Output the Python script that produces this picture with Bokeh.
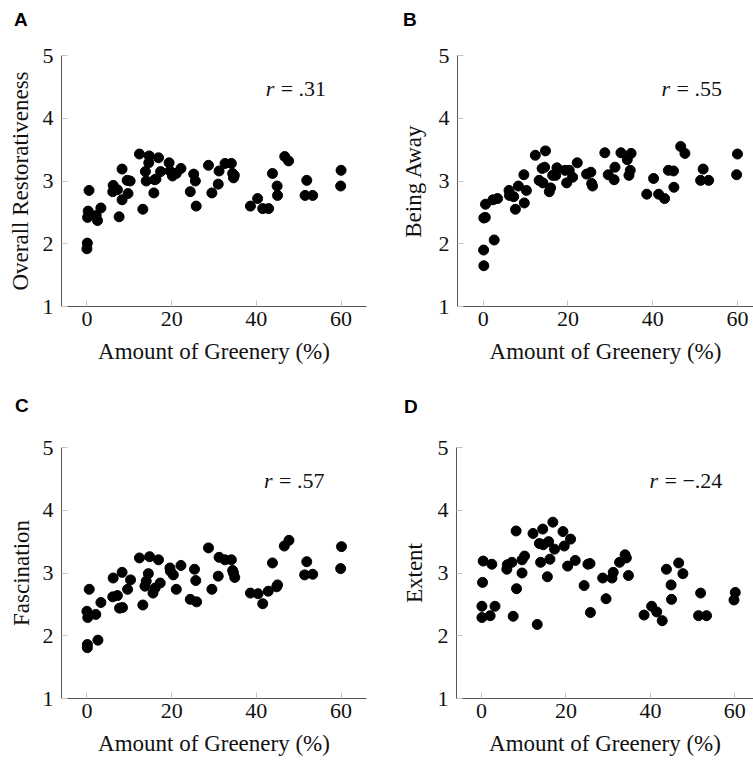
from bokeh.plotting import figure
from bokeh.layouts import column, row
from bokeh.models import Label, Range1d, FixedTicker, Div
from bokeh.embed import file_html
from bokeh.resources import INLINE

# ---------------- data ----------------
x_ticks = [0, 20, 40, 60]
y_ticks = [1, 2, 3, 4, 5]
x_label = "Amount of Greenery (%)"
panel_letters = ["A", "B", "C", "D"]
y_labels = ["Overall Restorativeness", "Being Away", "Fascination", "Extent"]
r_values = ["= .31", "= .55", "= .57", "= \u2212.24"]

x_overall = [0.0, 0.1, 0.15, 0.3, 0.5, 2.2, 2.5, 3.3, 6.1, 6.2, 7.2, 7.6, 8.3, 8.3, 9.5,
             10.2, 9.7, 12.4, 13.2, 13.8, 14.0, 14.6, 14.7, 15.8, 16.0, 16.3, 16.9, 17.4,
             19.4, 19.6, 20.2, 21.1, 22.2, 24.4, 25.2, 25.6, 25.8, 28.7, 29.5, 31.0, 31.2,
             32.6, 34.1, 34.4, 34.8, 34.6, 38.6, 40.3, 41.5, 42.9, 43.8, 44.9, 45.0, 46.7,
             47.6, 51.9, 51.5, 53.3, 60.0, 59.9]
y_overall = [1.92, 2.01, 2.42, 2.52, 2.85, 2.45, 2.37, 2.57, 2.83, 2.93, 2.86, 2.43, 2.70,
             3.19, 3.01, 3.00, 2.80, 3.43, 2.55, 3.15, 3.00, 3.29, 3.40, 2.81, 3.02, 3.03,
             3.37, 3.15, 3.29, 3.16, 3.08, 3.12, 3.20, 2.83, 3.11, 3.00, 2.60, 3.25, 2.81,
             2.95, 3.16, 3.28, 3.28, 3.12, 3.09, 3.05, 2.60, 2.72, 2.56, 2.56, 3.12, 2.92,
             2.77, 3.39, 3.32, 3.01, 2.77, 2.77, 3.17, 2.92]

x_away = [0.15, 0.1, 0.15, 0.5, 0.55, 2.3, 2.6, 3.4, 6.1, 6.2, 7.2, 7.6, 8.3, 9.6, 9.7,
          10.2, 12.3, 13.2, 13.9, 14.1, 14.5, 14.7, 15.6, 15.9, 16.4, 17.1, 17.4, 19.3,
          19.7, 20.3, 21.1, 22.2, 24.4, 25.4, 25.6, 25.8, 28.7, 29.5, 30.9, 31.1, 32.5,
          34.0, 34.4, 34.7, 34.9, 38.6, 40.2, 41.4, 42.8, 43.7, 44.9, 45.0, 46.6, 47.6,
          51.9, 51.3, 53.2, 60.0, 59.8]
y_away = [1.65, 1.90, 2.41, 2.42, 2.63, 2.70, 2.06, 2.72, 2.85, 2.77, 2.75, 2.55, 2.92,
          3.10, 2.65, 2.85, 3.41, 3.01, 3.20, 2.97, 3.22, 3.48, 2.83, 2.89, 3.09, 3.09,
          3.21, 3.17, 2.97, 3.17, 3.06, 3.29, 3.11, 3.14, 2.96, 2.92, 3.45, 3.10, 3.02,
          3.22, 3.45, 3.34, 3.09, 3.17, 3.44, 2.79, 3.04, 2.79, 2.72, 3.17, 3.16, 2.90,
          3.55, 3.44, 3.19, 3.01, 3.01, 3.43, 3.10]

x_fascination = [0.1, 0.1, 0.0, 0.2, 0.55, 2.1, 2.6, 3.3, 6.2, 6.1, 7.2, 7.7, 8.4, 8.3, 9.6,
                 10.3, 12.4, 13.2, 13.7, 14.0, 14.5, 14.8, 15.6, 16.1, 16.9, 17.3, 19.6,
                 19.7, 20.4, 21.1, 22.2, 24.4, 25.4, 25.7, 25.9, 28.7, 29.5, 31.0, 31.2,
                 32.6, 34.1, 34.4, 34.6, 34.9, 38.6, 40.4, 41.5, 42.8, 43.8, 44.8, 45.0,
                 46.6, 47.7, 51.9, 51.4, 53.3, 60.1, 59.9]
y_fascination = [1.81, 1.86, 2.39, 2.29, 2.74, 2.34, 1.93, 2.53, 2.92, 2.62, 2.64, 2.44,
                 2.45, 3.01, 2.74, 2.89, 3.24, 2.49, 2.79, 2.87, 2.99, 3.26, 2.68, 2.76,
                 3.21, 2.84, 3.08, 3.03, 2.97, 2.74, 3.12, 2.58, 3.06, 2.88, 2.54, 3.40,
                 2.74, 2.95, 3.25, 3.21, 3.21, 3.04, 3.00, 2.93, 2.68, 2.67, 2.51, 2.71,
                 3.16, 2.78, 2.81, 3.43, 3.52, 3.18, 2.97, 2.98, 3.42, 3.07]

x_extent = [0.1, 0.1, 0.25, 0.4, 2.05, 2.45, 3.2, 6.0, 6.1, 7.2, 7.5, 8.3, 8.2, 9.6, 9.6,
            10.2, 12.2, 13.2, 13.7, 14.0, 14.5, 14.6, 15.6, 15.9, 16.2, 16.9, 17.3, 19.3,
            19.6, 20.4, 21.1, 22.2, 24.3, 25.2, 25.7, 25.8, 28.7, 29.5, 30.9, 31.2, 32.7,
            34.0, 34.3, 34.8, 38.5, 40.3, 41.5, 42.8, 43.8, 44.9, 45.0, 46.7, 47.7, 51.9,
            51.4, 53.3, 60.1, 59.8]
y_extent = [2.29, 2.47, 2.85, 3.19, 2.32, 3.14, 2.47, 3.06, 3.13, 3.17, 2.31, 2.75, 3.67,
            3.21, 3.00, 3.27, 3.63, 2.18, 3.47, 3.17, 3.70, 3.45, 2.94, 3.50, 3.22, 3.81,
            3.38, 3.66, 3.43, 3.11, 3.54, 3.20, 2.80, 3.14, 3.15, 2.37, 2.92, 2.59, 2.92,
            3.01, 3.17, 3.29, 3.24, 2.96, 2.33, 2.47, 2.38, 2.24, 3.06, 2.81, 2.58, 3.16,
            2.99, 2.68, 2.32, 2.32, 2.69, 2.57]

# ---------------- styling helpers ----------------
SERIF = "Liberation Serif"
TICK_FS = "22px"
LABEL_FS = "23px"
STRIP_H = 34


def make_panel(ylabel, xs, ys, rtext, width, height, border_left, border_right,
               border_top, border_bottom, x_start, x_end, r_x, ylabel_standoff):
    p = figure(width=width, height=height, output_backend="svg", toolbar_location=None,
               x_range=Range1d(x_start, x_end), y_range=Range1d(1, 5),
               min_border_left=border_left, min_border_right=border_right,
               min_border_top=border_top, min_border_bottom=border_bottom)
    p.outline_line_color = None
    p.grid.visible = False
    p.background_fill_color = "white"
    p.border_fill_color = "white"

    p.xaxis.ticker = FixedTicker(ticks=x_ticks)
    p.yaxis.ticker = FixedTicker(ticks=y_ticks)
    p.xaxis.axis_label = x_label
    p.yaxis.axis_label = ylabel
    for ax in (p.xaxis, p.yaxis):
        ax.axis_line_color = "#555555"
        ax.axis_line_width = 1
        ax.major_tick_in = 6
        ax.major_tick_out = 0
        ax.major_tick_line_color = "#c4c4c4"
        ax.minor_tick_line_color = None
        ax.major_label_text_font = SERIF
        ax.major_label_text_font_size = TICK_FS
        ax.major_label_text_color = "#111111"
        ax.axis_label_text_font = SERIF
        ax.axis_label_text_font_size = LABEL_FS
        ax.axis_label_text_font_style = "normal"
        ax.axis_label_text_color = "#111111"
    p.xaxis.major_label_standoff = 5
    p.xaxis.axis_label_standoff = 10
    p.yaxis.major_label_standoff = 8
    p.yaxis.axis_label_standoff = ylabel_standoff

    p.scatter(xs, ys, size=10, color="black")

    # correlation annotation
    p.add_layout(Label(x=r_x, y=4.475, text="r", text_font=SERIF, text_font_style="italic",
                       text_font_size="22px", text_baseline="middle", text_color="#111111"))
    p.add_layout(Label(x=r_x, y=4.475, x_offset=15, text=rtext, text_font=SERIF,
                       text_font_size="22px", text_baseline="middle", text_color="#111111"))
    return p


def letter_div(letter, width, pad_left, pad_top):
    html = ('<div style="padding-left:%dpx;padding-top:%dpx;font-family:\'Liberation Sans\','
            'Arial,sans-serif;font-weight:bold;font-size:19px;line-height:19px;color:#000;">'
            '%s</div>' % (pad_left, pad_top, letter))
    return Div(text=html, width=width, height=STRIP_H, margin=0)


pA = make_panel(y_labels[0], x_overall, y_overall, r_values[0],
                376, 380 - STRIP_H, 61, 10, 55 - STRIP_H, 74, -6, 66, 42.2, 7)
pB = make_panel(y_labels[1], x_away, y_away, r_values[1],
                377, 380 - STRIP_H, 81, 0, 55 - STRIP_H, 74, -6.06, 63.78, 42.1, 10)
pC = make_panel(y_labels[2], x_fascination, y_fascination, r_values[2],
                376, 381 - STRIP_H, 61, 10, 67 - STRIP_H, 63, -6, 66, 41.8, 6)
pD = make_panel(y_labels[3], x_extent, y_extent, r_values[3],
                377, 381 - STRIP_H, 80, 0, 67 - STRIP_H, 63, -5.92, 64.42, 39.8, 8)

dA = letter_div(panel_letters[0], 376, 14, 10)
dB = letter_div(panel_letters[1], 377, 27, 10)
dC = letter_div(panel_letters[2], 376, 15, 16)
dD = letter_div(panel_letters[3], 377, 28, 17)

layout = column(row(dA, dB), row(pA, pB), row(dC, dD), row(pC, pD))

open("out.html", "w").write(file_html(layout, INLINE))
